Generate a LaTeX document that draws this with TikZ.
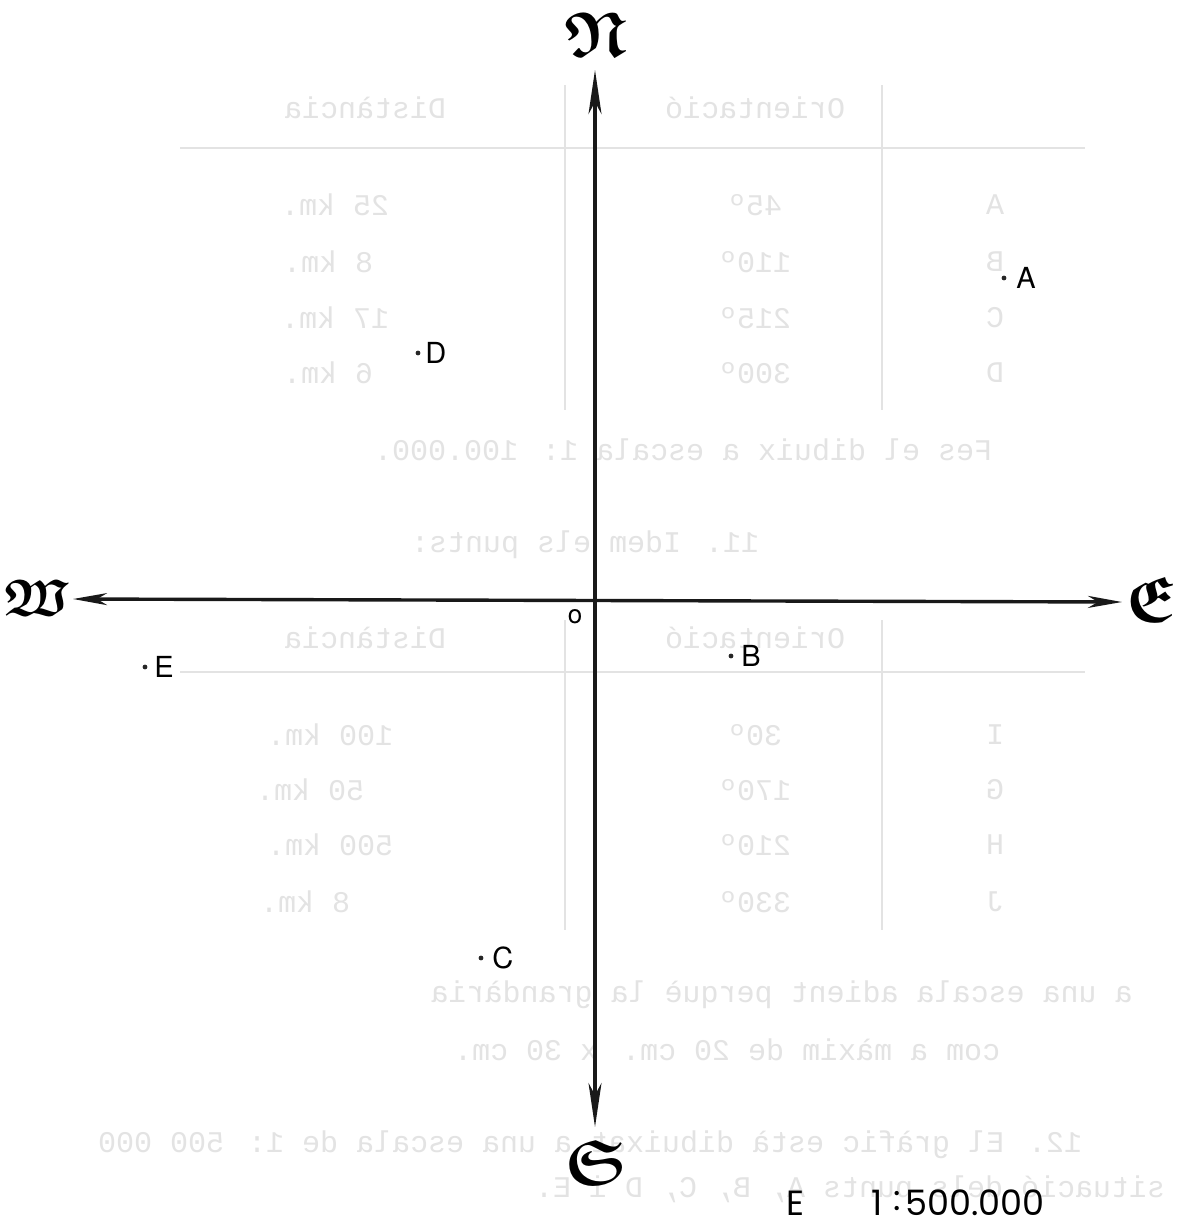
\documentclass[tikz,border=0pt]{standalone}
\usepackage{amssymb}
\usepackage{fontspec}
\usepackage{graphicx}
\usetikzlibrary{arrows.meta}
\setmainfont{TeX Gyre Heros}
\newfontfamily\scalefnt{Poppins}
\newfontfamily\typefnt{Liberation Mono}
\newcommand{\bgmirror}[1]{\reflectbox{#1}}
\newcommand{\goth}[1]{{\boldmath$\mathfrak{#1}$}}
\colorlet{showthrough}{black!11}
\begin{document}
\begin{tikzpicture}[x=0.5pt,y=-0.5pt,
  axisline/.style={line width=1.7pt, draw=black!90},
  cardinal/.style={inner sep=0pt, font=\fontsize{32}{32}\selectfont},
  ptdot/.style={circle, fill=black!85, inner sep=0pt, minimum size=2.4pt},
  ptlabel/.style={inner sep=0pt, anchor=west, font=\fontsize{14.5}{14.5}\selectfont},
  scaletext/.style={inner sep=0pt, font=\fontsize{17.5}{17.5}\selectfont\scalefnt},
  bgtext/.style={text=showthrough, inner sep=0pt, font=\fontsize{15}{15}\selectfont\typefnt},
  bgline/.style={draw=showthrough, line width=0.8pt},
]
\useasboundingbox (0,0) rectangle (1181,1228);
\clip (0,0) rectangle (1181,1228);
\fill[white] (0,0) rectangle (1181,1228);

% ---------- faint show-through of the reverse page ----------
\draw[bgline] (180,148) -- (1085,148);
\draw[bgline] (565,85) -- (565,410);
\draw[bgline] (882,85) -- (882,410);
\node[bgtext] (t1h1) at (365,108) {\bgmirror{Distància}};
\node[bgtext] (t1h2) at (755,108) {\bgmirror{Orientació}};
\node[bgtext] (t1d1) at (335,205) {\bgmirror{25 km.}};
\node[bgtext] (t1o1) at (755,205) {\bgmirror{45º}};
\node[bgtext] (t1l1) at (995,205) {\bgmirror{A}};
\node[bgtext] (t1d2) at (328,262) {\bgmirror{8 km.}};
\node[bgtext] (t1o2) at (755,262) {\bgmirror{110º}};
\node[bgtext] (t1l2) at (995,262) {\bgmirror{B}};
\node[bgtext] (t1d3) at (335,318) {\bgmirror{17 km.}};
\node[bgtext] (t1o3) at (755,318) {\bgmirror{215º}};
\node[bgtext] (t1l3) at (995,318) {\bgmirror{C}};
\node[bgtext] (t1d4) at (328,373) {\bgmirror{6 km.}};
\node[bgtext] (t1o4) at (755,373) {\bgmirror{300º}};
\node[bgtext] (t1l4) at (995,373) {\bgmirror{D}};
\node[bgtext] (bgl1) at (683,450) {\bgmirror{Fes el dibuix a escala 1: 100.000.}};
\node[bgtext] (bgl2) at (585,545) {\bgmirror{11. Idem els punts:}};

\draw[bgline] (180,672) -- (1085,672);
\draw[bgline] (565,620) -- (565,930);
\draw[bgline] (882,620) -- (882,930);
\node[bgtext] (t2h1) at (365,638) {\bgmirror{Distància}};
\node[bgtext] (t2h2) at (755,638) {\bgmirror{Orientació}};
\node[bgtext] (t2d1) at (330,735) {\bgmirror{100 km.}};
\node[bgtext] (t2o1) at (755,735) {\bgmirror{30º}};
\node[bgtext] (t2l1) at (995,735) {\bgmirror{I}};
\node[bgtext] (t2d2) at (310,790) {\bgmirror{50 km.}};
\node[bgtext] (t2o2) at (755,790) {\bgmirror{170º}};
\node[bgtext] (t2l2) at (995,790) {\bgmirror{G}};
\node[bgtext] (t2d3) at (330,845) {\bgmirror{500 km.}};
\node[bgtext] (t2o3) at (755,845) {\bgmirror{210º}};
\node[bgtext] (t2l3) at (995,845) {\bgmirror{H}};
\node[bgtext] (t2d4) at (305,902) {\bgmirror{8 km.}};
\node[bgtext] (t2o4) at (755,902) {\bgmirror{330º}};
\node[bgtext] (t2l4) at (995,902) {\bgmirror{J}};
\node[bgtext, anchor=west] (bgl3) at (430,995) {\bgmirror{a una escala adient perquè la grandària}};
\node[bgtext] (bgl4) at (727,1050) {\bgmirror{com a màxim de 20 cm. x 30 cm.}};
\node[bgtext] (bgl5) at (590,1145) {\bgmirror{12. El gràfic està dibuixat a una escala de 1: 500 000}};
\node[bgtext] (bgl6) at (850,1190) {\bgmirror{situació dels punts A, B, C, D i E.}};

% ---------- compass axes ----------
\coordinate (O) at (595,600);
\coordinate (Ntip) at (595,70);
\coordinate (Stip) at (595,1127);
\coordinate (Wtip) at (73,599);
\coordinate (Etip) at (1122,602);
\draw[axisline, {Stealth[length=22pt,width=6.5pt,inset=6pt]}-{Stealth[length=22pt,width=6.5pt,inset=6pt]}] (Stip) -- (Ntip);
\draw[axisline, {Stealth[length=17pt,width=6pt,inset=5pt]}-{Stealth[length=17pt,width=6pt,inset=5pt]}] (Wtip) -- (Etip);

\node[cardinal] (N) at (596,34) {\goth{N}};
\node[cardinal, font=\fontsize{26}{26}\selectfont] (W) at (37,598) {\goth{W}};
\node[cardinal] (E) at (1152,599) {\goth{E}};
\node[cardinal] (S) at (596,1162) {\goth{S}};

\node[inner sep=0pt, font=\fontsize{13}{13}\selectfont] (orig) at (575,617) {o};

% ---------- points ----------
\node[ptdot] (Adot) at (1004,278) {};
\node[ptlabel] (Alab) at (1016,278) {A};
\node[ptdot] (Ddot) at (418,353) {};
\node[ptlabel] (Dlab) at (425,353) {D};
\node[ptdot] (Bdot) at (731,656) {};
\node[ptlabel] (Blab) at (741,656) {B};
\node[ptdot] (Edot) at (145,667) {};
\node[ptlabel] (Elab) at (154,667) {E};
\node[ptdot] (Cdot) at (481,958) {};
\node[ptlabel] (Clab) at (492,958) {C};

% ---------- scale ----------
\node[scaletext] (scE) at (795,1203) {E};
\node[scaletext] (sc1) at (877,1203) {1};
\node[scaletext] (scC) at (897,1201) {:};
\node[scaletext, anchor=west] (scN) at (905,1203) {500.000};
\end{tikzpicture}
\end{document}
